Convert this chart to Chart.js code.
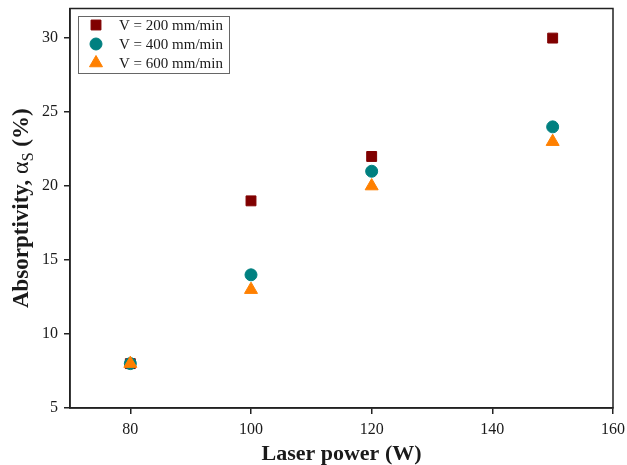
<!DOCTYPE html>
<html>
<head>
<meta charset="utf-8">
<script src="https://cdn.jsdelivr.net/npm/chart.js@4"></script>
<style>
html, body { margin: 0; padding: 0; background: #fff; }
canvas { display: block; }
</style>
</head>
<body>
<canvas id="absorptivityChart" width="627" height="465"></canvas>
<script>
var laserPower = [80, 100, 120, 150];
var speed200 = [8, 19, 22, 30];
var speed400 = [8, 14, 21, 24];
var speed600 = [8, 13, 20, 23];
var seriesLabels = ["V = 200 mm/min", "V = 400 mm/min", "V = 600 mm/min"];
var xTicks = [80, 100, 120, 140, 160];
var yTicks = [5, 10, 15, 20, 25, 30];

var serif = "'Liberation Serif', 'Times New Roman', serif";
var ink = "#1a1a1a";

function points(ys) {
    return laserPower.map(function (x, i) { return { x: x, y: ys[i] }; });
}

// keep the plot box exactly where the layout padding puts it
function noOverhang(axis) {
    axis.paddingTop = 0;
    axis.paddingBottom = 0;
    axis.paddingLeft = 0;
    axis.paddingRight = 0;
}

// box round the plot, the two axis titles and the legend box
var decorations = {
    id: "decorations",
    afterDraw: function (chart) {
        var ctx = chart.ctx;
        var a = chart.chartArea;
        ctx.save();
        ctx.strokeStyle = "#222";
        ctx.lineWidth = 1.5;
        ctx.strokeRect(a.left, a.top, a.right - a.left, a.bottom - a.top);

        ctx.fillStyle = ink;
        ctx.textBaseline = "alphabetic";

        // x title
        ctx.font = "bold 22px " + serif;
        ctx.textAlign = "center";
        ctx.fillText("Laser power (W)", (a.left + a.right) / 2, 460);

        // y title, with subscript S
        var parts = [
            { t: "Absorptivity, ", f: "bold 23px " + serif, dy: 0 },
            { t: "\u03b1", f: "24px " + serif, dy: 0 },
            { t: "S", f: "16px " + serif, dy: 5 },
            { t: " (%)", f: "bold 23px " + serif, dy: 0 }
        ];
        var total = 0;
        parts.forEach(function (p) { ctx.font = p.f; p.w = ctx.measureText(p.t).width; total += p.w; });
        ctx.translate(20, (a.top + a.bottom) / 2);
        ctx.rotate(-Math.PI / 2);
        ctx.textAlign = "left";
        var x = -total / 2;
        parts.forEach(function (p) {
            ctx.font = p.f;
            ctx.fillText(p.t, x, 8 + p.dy);
            x += p.w;
        });
        ctx.restore();

        // legend
        ctx.save();
        ctx.fillStyle = "#fff";
        ctx.fillRect(78, 16, 151, 57);
        ctx.strokeStyle = "#666";
        ctx.lineWidth = 1;
        ctx.strokeRect(78.5, 16.5, 151, 57);
        var rowY = [25, 44, 63];
        chart.data.datasets.forEach(function (ds, i) {
            ctx.fillStyle = ds.backgroundColor;
            ctx.strokeStyle = ds.borderColor;
            ctx.lineWidth = 1;
            Chart.helpers.drawPoint(ctx, {
                pointStyle: ds.pointStyle,
                radius: ds.pointRadius,
                rotation: 0,
                borderWidth: 1
            }, 96, rowY[i]);
            ctx.fillStyle = ink;
            ctx.font = "15px " + serif;
            ctx.textAlign = "left";
            ctx.textBaseline = "middle";
            ctx.fillText(ds.label, 119, rowY[i] + 1);
        });
        ctx.restore();
    }
};

new Chart("absorptivityChart", {
    type: "scatter",
    data: {
        datasets: [{
            label: seriesLabels[0],
            data: points(speed200),
            pointStyle: "rect",
            pointRadius: 7,
            backgroundColor: "#800000",
            borderColor: "#800000",
            order: 3
        }, {
            label: seriesLabels[1],
            data: points(speed400),
            pointStyle: "circle",
            pointRadius: 6,
            backgroundColor: "#008080",
            borderColor: "#008080",
            order: 2
        }, {
            label: seriesLabels[2],
            data: points(speed600),
            pointStyle: "triangle",
            pointRadius: 7.5,
            backgroundColor: "#ff8000",
            borderColor: "#ff8000",
            order: 1
        }]
    },
    options: {
        responsive: false,
        animation: false,
        devicePixelRatio: 1,
        layout: { padding: { left: 0, right: 14, top: 8, bottom: 0 } },
        plugins: {
            legend: { display: false },
            tooltip: { enabled: false }
        },
        scales: {
            x: {
                type: "linear",
                min: 70,
                max: 160,
                afterBuildTicks: function (axis) {
                    axis.ticks = xTicks.map(function (v) { return { value: v }; });
                },
                afterFit: function (axis) { axis.height = 57; noOverhang(axis); },
                grid: { drawOnChartArea: false, drawTicks: true, tickLength: 6, color: "#222", lineWidth: 1.5 },
                border: { display: true, color: "#222", width: 1.5 },
                ticks: { font: { family: serif, size: 16 }, color: ink, padding: 6, maxRotation: 0 }
            },
            y: {
                type: "linear",
                min: 5,
                max: 32,
                afterBuildTicks: function (axis) {
                    axis.ticks = yTicks.map(function (v) { return { value: v }; });
                },
                afterFit: function (axis) { axis.width = 70; noOverhang(axis); },
                grid: { drawOnChartArea: false, drawTicks: true, tickLength: 6, color: "#222", lineWidth: 1.5 },
                border: { display: true, color: "#222", width: 1.5 },
                ticks: { font: { family: serif, size: 16 }, color: ink, padding: 6 }
            }
        }
    },
    plugins: [decorations]
});
</script>
</body>
</html>
